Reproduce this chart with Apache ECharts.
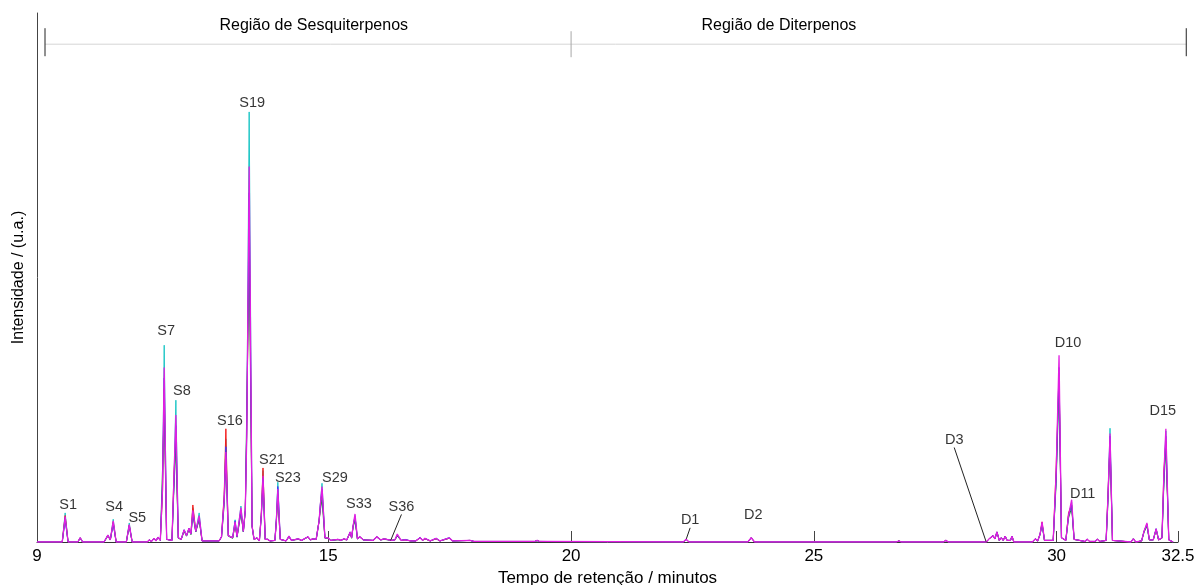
<!DOCTYPE html>
<html>
<head>
<meta charset="utf-8">
<script src="https://cdn.jsdelivr.net/npm/echarts@6/dist/echarts.min.js"></script>
<style>
  html, body { margin: 0; padding: 0; background: #fff; }
  #main { width: 1197px; height: 585px; }
</style>
</head>
<body>
<div id="main"></div>
<script>
// Retention time samples (minutes) shared by all five chromatogram traces
const retentionTimes = [
  9.00, 9.52, 9.58, 9.64, 9.84, 9.89, 9.94,
  10.38, 10.46, 10.51, 10.57, 10.63, 10.84, 10.90, 10.96,
  11.27, 11.31, 11.36, 11.41, 11.45, 11.49, 11.54, 11.585, 11.62, 11.67, 11.78, 11.82, 11.86, 11.91, 11.97,
  12.03, 12.08, 12.13, 12.17, 12.21, 12.27, 12.34, 12.40, 12.75, 12.80, 12.855, 12.89, 12.94,
  13.03, 13.08, 13.12, 13.20, 13.25, 13.29, 13.32, 13.37, 13.43, 13.47, 13.53, 13.58, 13.62, 13.655, 13.70, 13.75, 13.80, 13.90, 13.93, 13.96,
  14.01, 14.13, 14.19, 14.24, 14.38, 14.45, 14.58, 14.63, 14.68, 14.75, 14.81, 14.835, 14.87, 14.93, 14.99,
  15.05, 15.20, 15.26, 15.32, 15.38, 15.45, 15.48, 15.51, 15.55, 15.60, 15.65, 15.72, 15.92,
  16.00, 16.08, 16.15, 16.30, 16.37, 16.42, 16.50, 16.58, 16.70, 16.80, 16.89, 16.94, 16.99,
  17.10, 17.22, 17.30, 17.49, 17.56, 17.92, 18.00, 19.25, 19.30, 19.35,
  22.31, 22.37, 22.43, 23.64, 23.71, 23.78, 26.70, 26.75, 26.80, 27.67, 27.72, 27.77,
  28.55, 28.61, 28.65, 28.69, 28.73, 28.77, 28.82, 28.86, 28.90, 28.94, 28.98, 29.02, 29.05, 29.08, 29.12,
  29.50, 29.56, 29.61, 29.66, 29.70, 29.75, 29.93, 29.99,
  30.05, 30.10, 30.14, 30.19, 30.245, 30.31, 30.36, 30.58, 30.63, 30.68, 30.79, 30.84, 30.89,
  31.02, 31.06, 31.10, 31.15, 31.53, 31.58, 31.63, 31.75, 31.80, 31.86, 31.91, 31.99,
  32.05, 32.10, 32.17, 32.21, 32.25, 32.31, 32.40
];

// Intensities (u.a.) of each sample, one array per trace
const cyanTrace = [
  0, 0, 5.5, 0, 0, 0.8, 0,
  0, 1.3, 0.4, 4.3, 0, 0, 3.6, 0,
  0, 0.4, 0.1, 0.7, 0.2, 0.9, 0.3, 10, 37.2, 0.5, 0.3, 11, 26.8, 0.8, 0.5,
  2.3, 1.2, 2.6, 1.5, 6.5, 2.0, 5.5, 0.2, 0.2, 1.0, 8, 19.5, 1.2,
  0.8, 4.2, 1.0, 6.8, 2.0, 6, 20, 81.3, 3, 0.5, 0.8, 0.2, 5, 13.5, 0.5, 0.5, 0.2, 0.3, 4, 11.3,
  0.5, 0.2, 1.1, 0.3, 0.6, 0.3, 1.0, 0.4, 0.6, 0.5, 4, 7, 11.1, 0.8, 0.8,
  0.3, 0.5, 0.3, 0.6, 0.4, 1.9, 0.8, 3, 5.0, 0.6, 1.0, 0.4, 0.3,
  1.0, 0.4, 0.6, 0.3, 0.4, 1.2, 0.3, 0.4, 0.2, 0.2, 0.8, 0.3, 0.7,
  0.2, 0.7, 0.2, 0.8, 0.2, 0.3, 0.1, 0.1, 0.3, 0.1,
  0, 0.5, 0, 0, 0.8, 0, 0, 0.2, 0, 0, 0.3, 0,
  0, 0.6, 0.3, 1.2, 0.6, 1.9, 0.3, 0.8, 0.3, 1.1, 0.3, 0.5, 0.3, 1.1, 0,
  0, 0.6, 0.2, 1.5, 3.6, 0.3, 0.3, 12,
  31, 0.8, 1.0, 0.3, 5, 7.5, 0.5, 0.1, 0.5, 0.1, 0.1, 0.5, 0.1,
  0.3, 9, 21.5, 0.3, 0, 0.6, 0, 0.2, 2, 3.2, 0.4, 0.4,
  2.5, 0.4, 0.8, 12, 21, 0.4, 0
];
const redTrace = [
  0, 0, 5.0, 0, 0, 0.8, 0,
  0, 1.2, 0.4, 3.8, 0, 0, 3.2, 0,
  0, 0.4, 0.1, 0.7, 0.2, 0.9, 0.3, 9, 29, 0.5, 0.3, 12.7, 20, 0.8, 0.5,
  2.2, 1.2, 2.5, 1.5, 7.0, 2.0, 4.4, 0.2, 0.2, 1.0, 9, 21.4, 1.2,
  0.8, 3.5, 1.0, 5.8, 2.0, 6, 21, 60, 3, 0.5, 0.8, 0.2, 5.5, 14.0, 0.5, 0.5, 0.2, 0.3, 4, 9,
  0.5, 0.2, 1.0, 0.3, 0.6, 0.3, 1.0, 0.4, 0.6, 0.5, 4, 6.5, 9.5, 0.8, 0.8,
  0.3, 0.5, 0.3, 0.6, 0.4, 1.8, 0.8, 3, 4.6, 0.6, 1.0, 0.4, 0.3,
  1.0, 0.4, 0.6, 0.3, 0.4, 1.2, 0.3, 0.4, 0.2, 0.2, 0.8, 0.3, 0.6,
  0.2, 0.6, 0.2, 0.7, 0.2, 0.3, 0.1, 0.1, 0.3, 0.1,
  0, 0.5, 0, 0, 0.8, 0, 0, 0.2, 0, 0, 0.3, 0,
  0, 0.6, 0.3, 1.2, 0.6, 1.9, 0.3, 0.8, 0.3, 1.1, 0.3, 0.5, 0.3, 1.1, 0,
  0, 0.6, 0.2, 1.5, 3.8, 0.3, 0.3, 14,
  32, 0.8, 1.0, 0.3, 5.5, 7, 0.5, 0.1, 0.5, 0.1, 0.1, 0.5, 0.1,
  0.3, 9.8, 18.5, 0.3, 0, 0.6, 0, 0.2, 2, 3.4, 0.4, 0.4,
  2.4, 0.4, 0.8, 13.6, 19, 0.4, 0
];
const greenTrace = [
  0, 0, 4.6, 0, 0, 0.7, 0,
  0, 1.1, 0.4, 3.6, 0, 0, 3.0, 0,
  0, 0.4, 0.1, 0.6, 0.2, 0.8, 0.3, 13.6, 25, 0.5, 0.3, 10, 18, 0.7, 0.5,
  2.0, 1.1, 2.3, 1.4, 5.0, 1.9, 4.2, 0.2, 0.2, 0.9, 7, 15, 1.1,
  0.7, 3.3, 0.9, 5.5, 1.9, 6, 25, 55, 3, 0.5, 0.7, 0.2, 5, 11, 0.5, 0.5, 0.2, 0.3, 4, 8.5,
  0.5, 0.2, 1.0, 0.3, 0.5, 0.3, 0.9, 0.4, 0.5, 0.5, 4, 6, 8, 0.7, 0.7,
  0.3, 0.4, 0.3, 0.5, 0.4, 1.7, 0.7, 2.8, 4.0, 0.6, 0.9, 0.4, 0.3,
  0.9, 0.4, 0.5, 0.3, 0.4, 1.1, 0.3, 0.4, 0.2, 0.2, 0.8, 0.3, 0.6,
  0.2, 0.6, 0.2, 0.7, 0.2, 0.3, 0.1, 0.1, 0.2, 0.1,
  0, 0.5, 0, 0, 0.8, 0, 0, 0.2, 0, 0, 0.3, 0,
  0, 0.6, 0.3, 1.2, 0.6, 1.9, 0.3, 0.8, 0.3, 1.1, 0.3, 0.5, 0.3, 1.1, 0,
  0, 0.6, 0.2, 1.4, 3.4, 0.3, 0.3, 11,
  30, 0.8, 1.0, 0.3, 4.5, 6.5, 0.5, 0.1, 0.5, 0.1, 0.1, 0.5, 0.1,
  0.3, 8, 19, 0.3, 0, 0.6, 0, 0.2, 1.8, 3.0, 0.4, 0.4,
  2.3, 0.4, 0.7, 11, 18, 0.4, 0
];
const blueTrace = [
  0, 0, 4.2, 0, 0, 0.8, 0,
  0, 1.3, 0.4, 3.4, 0, 0, 3.1, 0,
  0, 0.4, 0.1, 0.7, 0.2, 0.9, 0.3, 11, 31, 0.5, 0.3, 11, 22, 0.8, 0.5,
  2.3, 1.2, 2.6, 1.5, 5.5, 2.0, 4.6, 0.2, 0.2, 1.0, 8, 18, 1.2,
  0.8, 4.0, 1.0, 6.0, 2.0, 6, 22, 66, 3, 0.5, 0.8, 0.2, 5, 12, 0.5, 0.5, 0.2, 0.3, 4.5, 10.5,
  0.5, 0.2, 1.1, 0.3, 0.6, 0.3, 1.0, 0.4, 0.6, 0.5, 4, 7, 10, 0.8, 0.8,
  0.3, 0.5, 0.3, 0.6, 0.4, 1.9, 0.8, 3, 4.8, 0.6, 1.0, 0.4, 0.3,
  1.0, 0.4, 0.6, 0.3, 0.4, 1.3, 0.3, 0.5, 0.2, 0.2, 0.9, 0.3, 0.7,
  0.2, 0.7, 0.2, 0.8, 0.2, 0.3, 0.1, 0.1, 0.3, 0.1,
  0, 0.5, 0, 0, 0.8, 0, 0, 0.2, 0, 0, 0.3, 0,
  0, 0.6, 0.3, 1.2, 0.6, 1.9, 0.3, 0.8, 0.3, 1.1, 0.3, 0.5, 0.3, 1.1, 0,
  0, 0.6, 0.2, 1.5, 3.5, 0.3, 0.3, 12,
  33, 0.8, 1.0, 0.3, 5, 7, 0.5, 0.1, 0.5, 0.1, 0.1, 0.5, 0.1,
  0.3, 9, 20, 0.3, 0, 0.6, 0, 0.2, 2, 3.3, 0.4, 0.4,
  2.5, 0.4, 0.8, 12, 20, 0.4, 0
];
const magentaTrace = [
  0, 0, 4.8, 0, 0, 0.8, 0,
  0, 1.3, 0.4, 4.0, 0, 0, 3.3, 0,
  0, 0.4, 0.1, 0.7, 0.2, 0.9, 0.3, 10, 33, 0.5, 0.3, 12, 24, 0.8, 0.5,
  2.3, 1.2, 2.6, 1.5, 6.0, 2.0, 5.0, 0.2, 0.2, 1.0, 8, 17, 1.2,
  0.8, 3.8, 1.0, 6.5, 2.0, 6, 20, 71, 3, 0.5, 0.8, 0.2, 5, 12.5, 0.5, 0.5, 0.2, 0.3, 4, 10,
  0.5, 0.2, 1.1, 0.3, 0.6, 0.3, 1.0, 0.4, 0.6, 0.5, 4, 7, 10.5, 0.8, 0.8,
  0.3, 0.5, 0.3, 0.6, 0.4, 1.9, 0.8, 3, 5.3, 0.6, 1.0, 0.4, 0.3,
  1.0, 0.4, 0.6, 0.3, 0.4, 1.5, 0.3, 0.4, 0.2, 0.2, 0.8, 0.3, 0.7,
  0.2, 0.7, 0.2, 0.8, 0.2, 0.3, 0.1, 0.1, 0.3, 0.1,
  0, 0.5, 0, 0, 0.8, 0, 0, 0.2, 0, 0, 0.3, 0,
  0, 0.6, 0.3, 1.2, 0.6, 1.9, 0.3, 0.8, 0.3, 1.1, 0.3, 0.5, 0.3, 1.1, 0,
  0, 0.6, 0.2, 1.5, 3.8, 0.3, 0.3, 13,
  35.3, 0.8, 1.0, 0.3, 5, 8.0, 0.5, 0.1, 0.5, 0.1, 0.1, 0.5, 0.1,
  0.3, 9, 20.5, 0.3, 0, 0.6, 0, 0.2, 2, 3.6, 0.4, 0.4,
  2.5, 0.4, 0.8, 13, 21.4, 0.4, 0
];

// Identified peaks: name, retention time and the intensity the label points at
const peakNames = ['S1', 'S4', 'S5', 'S7', 'S8', 'S16', 'S19', 'S21', 'S23', 'S29', 'S33', 'S36', 'D1', 'D2', 'D3', 'D10', 'D11', 'D15'];
const peakTimes = [9.58, 10.57, 10.90, 11.62, 11.86, 12.89, 13.37, 13.655, 13.96, 14.87, 15.55, 16.28, 22.37, 23.71, 28.55, 30.05, 30.31, 32.25];
const peakHeights = [5.5, 4.3, 3.6, 37.2, 26.8, 21.4, 81.3, 14.0, 11.3, 11.1, 5.3, 0.2, 0.5, 0.8, 0, 35.3, 8.0, 21.4];

// Retention-time regions shown above the traces
const regionNames = ['Região de Sesquiterpenos', 'Região de Diterpenos'];
const regionBounds = [9.165, 20, 32.67];
const regionLabelTimes = [14.7, 24.28];

// x-axis tick labels (minutes)
const timeTicks = [9, 15, 20, 25, 30, 32.5];

const FONT = '"Liberation Sans", Arial, sans-serif';
const traceStyles = [
  { data: cyanTrace,    color: '#1fc6c6', width: 1 },
  { data: redTrace,     color: '#f41c1c', width: 1 },
  { data: greenTrace,   color: '#1b8a3c', width: 1 },
  { data: blueTrace,    color: '#3b3bf5', width: 1 },
  { data: magentaTrace, color: '#e21ee2', width: 1.3 }
];
// label placement relative to its anchor, in pixels
const labelShift = {
  S1: [3, -8], S4: [1, -12], S5: [8, -5], S7: [2, -14], S8: [6, -9], S16: [4, -8],
  S19: [3, -9], S21: [9, -8], S23: [10, -4], S29: [13, -5], S33: [4, -10], S36: [11, -34],
  D1: [4, -19], D2: [2, -23], D3: [-32, -102], D10: [9, -12], D11: [11, -6], D15: [-3, -18]
};
const withLeader = { S36: true, D1: true, D3: true };

const chart = echarts.init(document.getElementById('main'), null, { renderer: 'canvas' });

const traceSeries = traceStyles.map((s, k) => ({
  type: 'line',
  data: retentionTimes.map((t, i) => [t, s.data[i]]),
  showSymbol: false,
  symbol: 'none',
  lineStyle: { color: s.color, width: s.width },
  z: 2 + k,
  silent: true
}));

const labelSeries = {
  type: 'scatter',
  data: peakNames.map((n, i) => {
    const item = { name: n, value: [peakTimes[i], peakHeights[i]] };
    if (withLeader[n]) {
      item.labelLine = { show: true, length2: 0, lineStyle: { color: '#222', width: 1 } };
    }
    return item;
  }),
  symbolSize: 1,
  itemStyle: { color: 'rgba(0,0,0,0)' },
  label: {
    show: true,
    position: 'inside',
    formatter: '{b}',
    fontFamily: FONT,
    fontSize: 14.5,
    color: '#000'
  },
  labelLayout: (p) => {
    const sh = labelShift[peakNames[p.dataIndex]] || [0, 0];
    return { dx: sh[0], dy: sh[1] };
  },
  z: 10,
  silent: true
};

chart.setOption({
  animation: false,
  backgroundColor: '#ffffff',
  grid: { left: 37, right: 19, top: 13, bottom: 43, outerBoundsMode: 'none', containLabel: false },
  xAxis: {
    type: 'value',
    min: 9,
    max: 32.5,
    name: 'Tempo de retenção / minutos',
    nameLocation: 'middle',
    nameGap: 27,
    nameTextStyle: { fontFamily: FONT, fontSize: 17, color: '#000' },
    axisLine: { show: true, onZero: false, lineStyle: { color: '#333', width: 1 } },
    axisTick: { show: true, inside: true, length: 11, customValues: timeTicks.slice(1), lineStyle: { color: '#444' } },
    axisLabel: { customValues: timeTicks, formatter: (v) => String(v), fontFamily: FONT, fontSize: 17, color: '#000', margin: 6 },
    splitLine: { show: false }
  },
  yAxis: {
    type: 'value',
    min: 0,
    max: 100,
    name: 'Intensidade / (u.a.)',
    nameLocation: 'middle',
    nameGap: 10,
    nameTextStyle: { fontFamily: FONT, fontSize: 16, color: '#000' },
    axisLine: { show: true, lineStyle: { color: '#444', width: 1 } },
    axisTick: { show: false },
    axisLabel: { show: false },
    splitLine: { show: false }
  },
  series: traceSeries.concat([labelSeries])
});

// Region bracket above the chromatogram
function drawRegions() {
  const px = (t, v) => chart.convertToPixel({ gridIndex: 0 }, [t, v]);
  const lineY = px(9, 94.1)[1];
  const textY = px(9, 97.7)[1];
  const xs = regionBounds.map((t) => px(t, 0)[0]);
  const els = [];
  els.push({
    type: 'line', silent: true, z: 20,
    shape: { x1: xs[0], y1: lineY, x2: xs[xs.length - 1], y2: lineY },
    style: { stroke: '#d6d6d6', lineWidth: 1 }
  });
  xs.forEach((x, i) => {
    const inner = i > 0 && i < xs.length - 1;
    els.push({
      type: 'line', silent: true, z: 21,
      shape: { x1: x, y1: lineY - (inner ? 13 : 16), x2: x, y2: lineY + (inner ? 13 : 12) },
      style: { stroke: inner ? '#a8a8a8' : '#222', lineWidth: 1 }
    });
  });
  regionNames.forEach((name, i) => {
    els.push({
      type: 'text', silent: true, z: 21,
      x: px(regionLabelTimes[i], 0)[0], y: textY,
      style: { text: name, fontFamily: FONT, fontSize: 16, fill: '#000', align: 'center', verticalAlign: 'middle' }
    });
  });
  chart.setOption({ graphic: { elements: els } });
}
drawRegions();
</script>
</body>
</html>
